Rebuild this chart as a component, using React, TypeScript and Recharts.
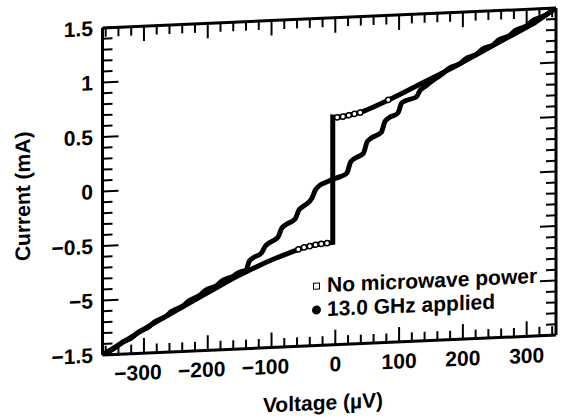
import { ComposedChart, Line, Scatter, XAxis, YAxis, ReferenceLine, Legend } from 'recharts';

// I-V curve, Josephson junction, with and without 13 GHz drive
const noPowerV = [-365, -291, -213, -160, -134, -110, -90, -70, -55, -40, -25, -12, -4, -4, 3, 12, 21, 30, 44, 60, 82, 105, 134, 160, 186, 250, 312, 346];
const noPowerI = [-1.5, -1.25, -1.01, -0.85, -0.78, -0.72, -0.675, -0.635, -0.605, -0.585, -0.57, -0.565, -0.56, 0.59, 0.585, 0.59, 0.6, 0.61, 0.63, 0.665, 0.72, 0.78, 0.86, 0.93, 1.0, 1.19, 1.37, 1.5];

// open circles still visible near the switching corners
const circleV = [3, 12, 21, 30, 39, 83, -13, -22, -31, -40, -49, -58];
const circleI = [0.585, 0.59, 0.6, 0.61, 0.62, 0.725, -0.565, -0.57, -0.575, -0.585, -0.595, -0.61];

const appliedV = [-365, -345, -336, -318, -310, -292, -284, -265, -257, -238, -230, -212, -204, -186, -178, -160, -152, -140, -135, -129, -116, -110, -104, -90, -84, -78, -63, -57, -51, -37, -31, -24, -12, -4, 8, 18, 24, 30, 44, 50, 56, 72, 78, 84, 98, 104, 110, 127, 133, 140, 154, 170, 178, 196, 204, 222, 230, 248, 256, 274, 282, 300, 308, 326, 346];
const appliedI = [-1.5, -1.44, -1.4, -1.35, -1.31, -1.26, -1.22, -1.17, -1.13, -1.08, -1.04, -0.99, -0.95, -0.91, -0.87, -0.83, -0.8, -0.78, -0.7, -0.67, -0.63, -0.57, -0.54, -0.49, -0.41, -0.38, -0.33, -0.25, -0.22, -0.15, -0.07, -0.03, 0.0, 0.02, 0.04, 0.07, 0.17, 0.2, 0.245, 0.35, 0.38, 0.43, 0.53, 0.56, 0.6, 0.69, 0.71, 0.74, 0.8, 0.83, 0.89, 0.95, 0.99, 1.03, 1.07, 1.11, 1.15, 1.19, 1.23, 1.27, 1.31, 1.35, 1.39, 1.43, 1.5];

const xMajorTicks = [-300, -200, -100, 0, 100, 200, 300];
const xTickLabels = ['−300', '−200', '−100', '0', '100', '200', '300'];
const yMajorTicks = [-1.5, -1, -0.5, 0, 0.5, 1, 1.5];
const yTickLabels = ['−1.5', '−5', '−0.5', '0', '0.5', '1', '1.5'];
const legendLabels = ['No microwave power', '13.0 GHz applied'];

const xMinorTicks: number[] = [];
for (let k = -18; k <= 17; k++) xMinorTicks.push(k * 20);
const yMinorTicks: number[] = [];
for (let k = -15; k <= 15; k++) yMinorTicks.push(k / 10);

const zip = (vs: number[], is: number[]) => vs.map((v, n) => ({ v, i: is[n] }));
const noPower = zip(noPowerV, noPowerI);
const circles = zip(circleV, circleI);
const applied = zip(appliedV, appliedI);

const FONT = '"Liberation Sans", Arial, sans-serif';
const FS = 21;
const TOP = 18;
const BOTTOM = 345;
const LEFT = 102.5;
const RIGHT = 556;

const XTick = (props: any) => {
  const { x, payload } = props;
  const idx = xMajorTicks.indexOf(payload.value);
  const len = idx >= 0 ? 15 : 9;
  return (
    <g>
      <line x1={x} x2={x} y1={BOTTOM} y2={BOTTOM - len} stroke="#000" strokeWidth={2} />
      <line x1={x} x2={x} y1={TOP} y2={TOP + len} stroke="#000" strokeWidth={2} />
      {idx >= 0 && (
        <text x={x} y={BOTTOM + 19} dx={payload.value < 0 ? -6 : 0} dy="0.36em" textAnchor="middle"
          fontFamily={FONT} fontWeight="bold" fontSize={FS} fill="#000">{xTickLabels[idx]}</text>
      )}
    </g>
  );
};

const YTick = (props: any) => {
  const { y, payload } = props;
  const idx = yMajorTicks.findIndex((m) => Math.abs(m - payload.value) < 1e-6);
  const len = idx >= 0 ? 16 : 10;
  return (
    <g>
      <line x1={LEFT} x2={LEFT + len} y1={y} y2={y} stroke="#000" strokeWidth={2} />
      <line x1={RIGHT} x2={RIGHT - len} y1={y} y2={y} stroke="#000" strokeWidth={2} />
      {idx >= 0 && (
        <text x={93} y={y} dy="0.36em" textAnchor="end" fontFamily={FONT} fontWeight="bold" fontSize={FS} fill="#000">
          {yTickLabels[idx]}
        </text>
      )}
    </g>
  );
};

const YTitle = () => (
  <text x={22} y={183} transform="rotate(-90 22 183)" textAnchor="middle" dy="0.36em"
    fontFamily={FONT} fontWeight="bold" fontSize={FS} fill="#000">Current (mA)</text>
);

const XTitle = () => (
  <text x={323} y={402} textAnchor="middle" dy="0.36em" fontFamily={FONT} fontWeight="bold" fontSize={FS} fill="#000">
    Voltage (µV)
  </text>
);

const OpenCircle = (props: any) => (
  <circle cx={props.cx} cy={props.cy} r={2.6} fill="#fff" stroke="#000" strokeWidth={1.5} />
);

const renderLegend = () => (
  <div style={{ fontFamily: FONT, fontWeight: 'bold', fontSize: FS, color: '#000', lineHeight: '24px' }}>
    {legendLabels.map((label, n) => (
      <div key={label} style={{ display: 'flex', alignItems: 'center' }}>
        <span style={{ width: 21, display: 'inline-flex', justifyContent: 'center' }}>
          {n === 0 ? (
            <span style={{ width: 5, height: 5, border: '1.5px solid #000', background: '#fff' }} />
          ) : (
            <span style={{ width: 9, height: 9, borderRadius: '50%', background: '#000' }} />
          )}
        </span>
        <span>{label}</span>
      </div>
    ))}
  </div>
);

export default function App() {
  return (
    <div style={{ position: 'absolute', left: 0, top: 0, width: 562, height: 417, overflow: 'hidden', background: '#fff' }}>
      <div style={{ transform: 'skewY(-2.5deg)', transformOrigin: '329px 0' }}>
        <ComposedChart width={562} height={417} margin={{ top: TOP, right: 562 - RIGHT, bottom: 32, left: 42.5 }}>
          <XAxis dataKey="v" type="number" domain={[-365, 346]} ticks={xMinorTicks} interval={0}
            allowDataOverflow tick={(p: any) => <XTick {...p} />} tickLine={false} tickSize={0} tickMargin={0}
            axisLine={{ stroke: '#000', strokeWidth: 3 }} height={40} label={<XTitle />} />
          <YAxis dataKey="i" type="number" domain={[-1.5, 1.5]} ticks={yMinorTicks} interval={0}
            allowDataOverflow tick={(p: any) => <YTick {...p} />} tickLine={false} tickSize={0} tickMargin={0}
            axisLine={{ stroke: '#000', strokeWidth: 3 }} width={60} label={<YTitle />} />
          <ReferenceLine y={1.5} stroke="#000" strokeWidth={3} />
          <ReferenceLine x={346} stroke="#000" strokeWidth={3} />
          <Line data={noPower} dataKey="i" type="linear" stroke="#000" strokeWidth={5} dot={false}
            isAnimationActive={false} name="No microwave power" />
          <Line data={applied} dataKey="i" type="monotone" stroke="#000" strokeWidth={5} dot={false}
            isAnimationActive={false} name="13.0 GHz applied" />
          <Scatter data={circles} dataKey="i" shape={<OpenCircle />} isAnimationActive={false} legendType="none" />
          <Legend layout="vertical" align="center" verticalAlign="middle" content={renderLegend}
            wrapperStyle={{ position: 'absolute', left: 306, top: 273, width: 256 }} />
        </ComposedChart>
      </div>
    </div>
  );
}
